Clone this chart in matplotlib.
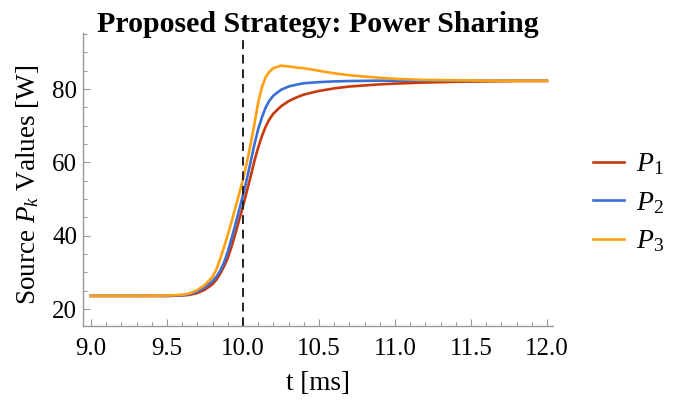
import matplotlib
matplotlib.use("Agg")
import matplotlib.pyplot as plt
from matplotlib.ticker import MultipleLocator, FormatStrFormatter

t = [9.0, 9.3, 9.5, 9.6, 9.65, 9.7, 9.75, 9.8, 9.825, 9.85, 9.875, 9.9, 9.925, 9.95,
     9.975, 10.0, 10.025, 10.05, 10.075, 10.1, 10.125, 10.15, 10.175, 10.2, 10.25,
     10.3, 10.35, 10.4, 10.5, 10.6, 10.7, 10.8, 10.9, 11.0, 11.2, 11.4, 11.6, 11.8, 12.0]
P1 = [23.6, 23.6, 23.6, 23.7, 23.9, 24.4, 25.3, 26.8, 28.0, 29.6, 31.6, 33.9, 37.0, 40.5,
      44.3, 48.0, 52.0, 56.0, 60.3, 64.0, 67.2, 69.8, 71.8, 73.3, 75.3,
      76.7, 77.7, 78.5, 79.5, 80.2, 80.7, 81.0, 81.3, 81.5, 81.8, 82.0, 82.1, 82.2, 82.2]
P2 = [23.6, 23.6, 23.6, 23.8, 24.1, 24.8, 25.9, 27.6, 28.8, 30.4, 32.6, 35.6, 39.2, 43.0,
      47.0, 51.0, 55.3, 60.0, 64.8, 69.0, 72.3, 75.0, 76.9, 78.2, 79.8,
      80.7, 81.2, 81.6, 81.9, 82.1, 82.2, 82.25, 82.3, 82.3, 82.3, 82.3, 82.3, 82.3, 82.3]
P3 = [23.6, 23.6, 23.7, 23.9, 24.3, 25.2, 26.6, 28.8, 30.8, 33.6, 36.9, 40.2, 43.8, 47.6,
      51.4, 55.3, 59.8, 64.8, 70.3, 76.3, 80.5, 83.3, 84.8, 85.7, 86.4,
      86.2, 85.9, 85.7, 85.0, 84.3, 83.8, 83.4, 83.1, 82.8, 82.5, 82.4, 82.3, 82.3, 82.3]
labels = [r"$P_1$", r"$P_2$", r"$P_3$"]
colors = ["#C8390E", "#3A6FD6", "#FFA012"]
t_event = 10.0

plt.rcParams["font.family"] = ["Liberation Serif", "DejaVu Serif"]
plt.rcParams["mathtext.fontset"] = "custom"
plt.rcParams["mathtext.rm"] = "Liberation Serif"
plt.rcParams["mathtext.it"] = "Liberation Serif:italic"

W, H = 679, 407
fig = plt.figure(figsize=(W / 100, H / 100), dpi=100)
ax = fig.add_axes([82.7 / W, 1 - 326 / H, (553 - 82.7) / W, (326 - 33) / H])

for y, lab, c in zip([P1, P2, P3], labels, colors):
    ax.plot(t, y, color=c, lw=1.9, label=lab)

ax.axvline(t_event, ymin=0, ymax=0.986, color="#222222", lw=1.4, ls=(0, (4.5, 3)))

ax.set_xlim(8.946, 12.04)
ax.set_ylim(15.4, 95.3)
ax.xaxis.set_major_locator(MultipleLocator(0.5))
ax.xaxis.set_minor_locator(MultipleLocator(0.1))
ax.yaxis.set_major_locator(MultipleLocator(20))
ax.yaxis.set_minor_locator(MultipleLocator(5))
ax.xaxis.set_major_formatter(FormatStrFormatter("%.1f"))

for s in ["top", "right"]:
    ax.spines[s].set_visible(False)
for s in ["left", "bottom"]:
    ax.spines[s].set_color("#999999")
    ax.spines[s].set_linewidth(1.0)
ax.tick_params(which="both", direction="in", color="#999999", width=0.8, labelsize=18)
ax.tick_params(which="major", length=5)
ax.tick_params(which="minor", length=3)
ax.tick_params(axis="x", which="major", pad=8.5)
ax.tick_params(axis="y", which="major", pad=4)

fig.text(28 / W, 1 - 185 / H, r"Source $P_k$ Values [W]", fontsize=19.5,
         rotation=90, ha="center", va="center")
fig.text(318 / W, 1 - 383 / H, "t [ms]", fontsize=19.5, ha="center", va="center")
fig.text(318 / W, 1 - 32 / H, "Proposed Strategy: Power Sharing", fontsize=21.5,
         fontweight="bold", ha="center", va="baseline")

fig.legend(*ax.get_legend_handles_labels(), loc="center left",
           bbox_to_anchor=(593 / W, 1 - 203 / H), frameon=False, fontsize=20,
           handlelength=1.1, labelspacing=0.45, handletextpad=0.45,
           borderaxespad=0, borderpad=0)

fig.savefig("out.png", dpi=100)
